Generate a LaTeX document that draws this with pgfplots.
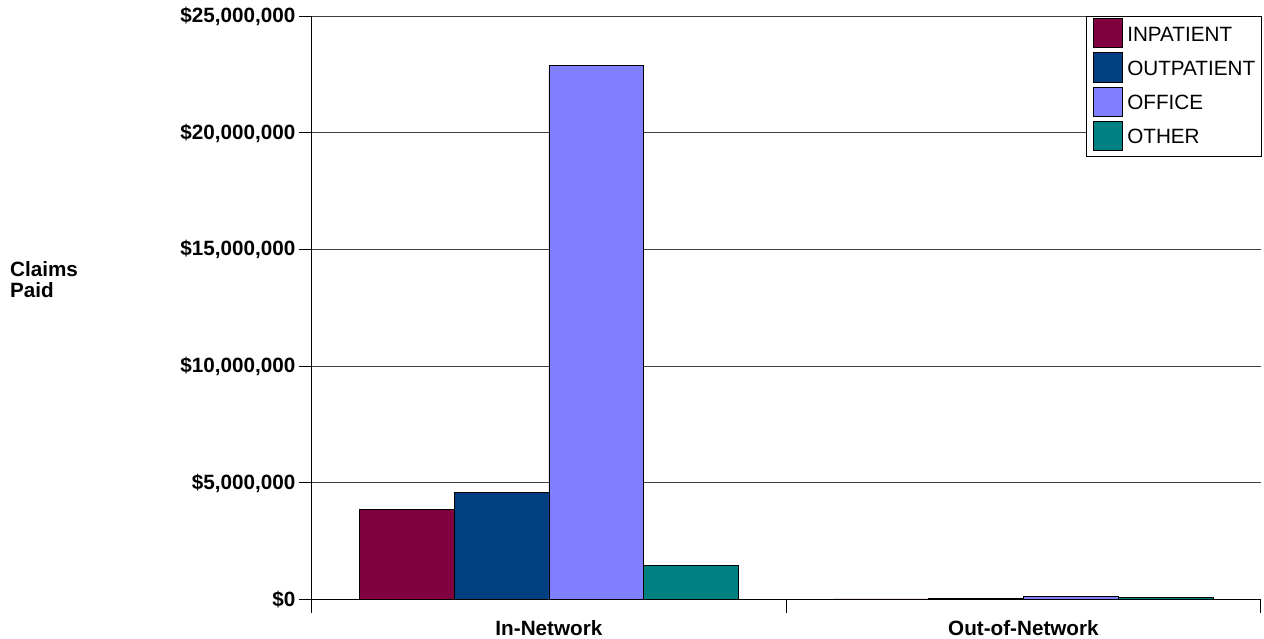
\documentclass[border=0pt]{standalone}
\usepackage{fontspec}
\setmainfont{Liberation Sans}
\usepackage{pgfplots}
\pgfplotsset{compat=1.18}

\definecolor{inpat}{RGB}{128,0,64}
\definecolor{outpat}{RGB}{0,64,128}
\definecolor{office}{RGB}{128,128,255}
\definecolor{other}{RGB}{0,128,128}
\definecolor{gridc}{RGB}{64,64,64}

\newcommand{\chartfont}{\fontsize{20.7pt}{21pt}\selectfont}

\pgfplotsset{
  swatch/.style={legend image code/.code={%
    \draw[##1,draw=black,line width=0.8pt] (0pt,-10.7pt) rectangle (29.7pt,18.7pt);}},
}

\begin{document}
\begin{tikzpicture}
\begin{axis}[
  name=ax,
  scale only axis,
  width=950pt, height=584pt,
  xmin=-0.5, xmax=1.5,
  ymin=0, ymax=25000000,
  ytick={0,5000000,10000000,15000000,20000000,25000000},
  scaled y ticks=false,
  axis x line*=bottom, axis y line*=left,
  axis line style={black, line width=1pt},
  ymajorgrids, grid style={gridc, line width=1pt},
  tick align=outside,
  major tick length=13pt,
  tick style={black, line width=1pt},
  xtick={-0.5,0.5,1.5}, xticklabels={},
  extra x ticks={0,1},
  extra x tick labels={In-Network,Out-of-Network},
  extra x tick style={major tick length=0pt, grid=none},
  x tick label style={font=\chartfont\bfseries, yshift=-17pt},
  /pgf/number format/assume math mode=true,
  yticklabel={\$\pgfmathprintnumber[fixed,precision=0,1000 sep={,}]{\tick}},
  yticklabel style={font=\chartfont\bfseries, inner sep=0pt, xshift=-3pt},
  legend style={at={(rel axis cs:1,1)}, anchor=north east, xshift=1pt, yshift=0.3pt,
    draw=black, line width=1pt, inner xsep=6pt, inner ysep=1.5pt,
    row sep=0.5pt, column sep=4pt, font=\chartfont,
    nodes={inner sep=0pt, text height=18.7pt, text depth=10.7pt}},
  legend cell align=left,
]
\addplot[ybar, bar width=0.2, bar shift=-0.3, fill=inpat, draw=black, line width=0.8pt, swatch]
  coordinates {(0,3850000) (1,30000)};
\addplot[ybar, bar width=0.2, bar shift=-0.1, fill=outpat, draw=black, line width=0.8pt, swatch]
  coordinates {(0,4600000) (1,40000)};
\addplot[ybar, bar width=0.2, bar shift=0.1, fill=office, draw=black, line width=0.8pt, swatch]
  coordinates {(0,22900000) (1,130000)};
\addplot[ybar, bar width=0.2, bar shift=0.3, fill=other, draw=black, line width=0.8pt, swatch]
  coordinates {(0,1470000) (1,100000)};
\legend{INPATIENT,OUTPATIENT,OFFICE,OTHER}
\end{axis}
\node[anchor=north west, align=left, inner sep=0pt, font=\chartfont\bfseries]
  at ([shift={(-302pt,338.9pt)}]ax.south west) {Claims\\Paid};
\path ([shift={(-312pt,-38.7pt)}]ax.south west) rectangle ++(1264pt,639pt);
\end{tikzpicture}
\end{document}
